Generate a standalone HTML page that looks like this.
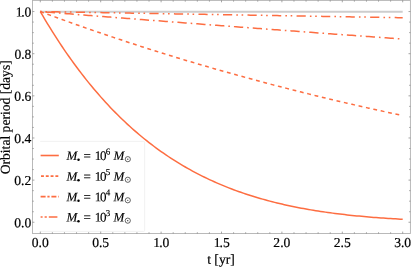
<!DOCTYPE html>
<html><head><meta charset="utf-8"><style>
html,body{margin:0;padding:0;background:#fff;}
svg{display:block;font-family:"Liberation Serif",serif;will-change:transform;}
</style></head><body>
<svg width="411" height="267" viewBox="0 0 411 267">
<rect width="411" height="267" fill="#fff"/>
<path d="M40.3 11.75H402.7" stroke="#cdcdcd" stroke-width="1.8"/>
<path d="M40.30,11.55 L42.72,15.69 L45.13,19.77 L47.55,23.78 L49.96,27.72 L52.38,31.60 L54.80,35.42 L57.21,39.17 L59.63,42.86 L62.04,46.49 L64.46,50.06 L66.88,53.57 L69.29,57.02 L71.71,60.41 L74.12,63.75 L76.54,67.03 L78.96,70.25 L81.37,73.42 L83.79,76.53 L86.20,79.59 L88.62,82.60 L91.04,85.55 L93.45,88.46 L95.87,91.31 L98.28,94.11 L100.70,96.87 L103.12,99.57 L105.53,102.23 L107.95,104.84 L110.36,107.40 L112.78,109.92 L115.20,112.39 L117.61,114.81 L120.03,117.19 L122.44,119.53 L124.86,121.83 L127.28,124.08 L129.69,126.29 L132.11,128.47 L134.52,130.60 L136.94,132.69 L139.36,134.74 L141.77,136.75 L144.19,138.73 L146.60,140.66 L149.02,142.56 L151.44,144.43 L153.85,146.25 L156.27,148.05 L158.68,149.80 L161.10,151.53 L163.52,153.22 L165.93,154.87 L168.35,156.50 L170.76,158.09 L173.18,159.65 L175.60,161.18 L178.01,162.67 L180.43,164.14 L182.84,165.58 L185.26,166.99 L187.68,168.37 L190.09,169.72 L192.51,171.04 L194.92,172.34 L197.34,173.61 L199.76,174.85 L202.17,176.06 L204.59,177.25 L207.00,178.42 L209.42,179.56 L211.84,180.68 L214.25,181.77 L216.67,182.84 L219.08,183.88 L221.50,184.90 L223.92,185.90 L226.33,186.88 L228.75,187.84 L231.16,188.77 L233.58,189.68 L236.00,190.58 L238.41,191.45 L240.83,192.30 L243.24,193.14 L245.66,193.95 L248.08,194.75 L250.49,195.53 L252.91,196.28 L255.32,197.03 L257.74,197.75 L260.16,198.46 L262.57,199.15 L264.99,199.82 L267.40,200.48 L269.82,201.12 L272.24,201.75 L274.65,202.36 L277.07,202.95 L279.48,203.53 L281.90,204.10 L284.32,204.65 L286.73,205.19 L289.15,205.72 L291.56,206.23 L293.98,206.73 L296.40,207.21 L298.81,207.68 L301.23,208.15 L303.64,208.59 L306.06,209.03 L308.48,209.46 L310.89,209.87 L313.31,210.27 L315.72,210.67 L318.14,211.05 L320.56,211.42 L322.97,211.78 L325.39,212.13 L327.80,212.47 L330.22,212.81 L332.64,213.13 L335.05,213.44 L337.47,213.75 L339.88,214.04 L342.30,214.33 L344.72,214.61 L347.13,214.88 L349.55,215.15 L351.96,215.40 L354.38,215.65 L356.80,215.89 L359.21,216.12 L361.63,216.35 L364.04,216.57 L366.46,216.78 L368.88,216.99 L371.29,217.19 L373.71,217.38 L376.12,217.57 L378.54,217.75 L380.96,217.92 L383.37,218.09 L385.79,218.26 L388.20,218.42 L390.62,218.57 L393.04,218.72 L395.45,218.86 L397.87,219.00 L400.28,219.14 L402.70,219.26" fill="none" stroke="#FD6D41" stroke-width="1.5"/>
<path d="M40.30,11.55 L42.72,12.45 L45.13,13.34 L47.55,14.24 L49.96,15.12 L52.38,16.01 L54.80,16.89 L57.21,17.77 L59.63,18.65 L62.04,19.52 L64.46,20.39 L66.88,21.26 L69.29,22.12 L71.71,22.98 L74.12,23.84 L76.54,24.70 L78.96,25.55 L81.37,26.40 L83.79,27.24 L86.20,28.09 L88.62,28.93 L91.04,29.76 L93.45,30.60 L95.87,31.43 L98.28,32.26 L100.70,33.08 L103.12,33.90 L105.53,34.72 L107.95,35.54 L110.36,36.35 L112.78,37.16 L115.20,37.97 L117.61,38.78 L120.03,39.58 L122.44,40.38 L124.86,41.17 L127.28,41.97 L129.69,42.76 L132.11,43.54 L134.52,44.33 L136.94,45.11 L139.36,45.89 L141.77,46.67 L144.19,47.44 L146.60,48.21 L149.02,48.98 L151.44,49.74 L153.85,50.51 L156.27,51.26 L158.68,52.02 L161.10,52.78 L163.52,53.53 L165.93,54.28 L168.35,55.02 L170.76,55.76 L173.18,56.50 L175.60,57.24 L178.01,57.98 L180.43,58.71 L182.84,59.44 L185.26,60.17 L187.68,60.89 L190.09,61.61 L192.51,62.33 L194.92,63.05 L197.34,63.76 L199.76,64.47 L202.17,65.18 L204.59,65.89 L207.00,66.59 L209.42,67.29 L211.84,67.99 L214.25,68.68 L216.67,69.38 L219.08,70.07 L221.50,70.76 L223.92,71.44 L226.33,72.12 L228.75,72.80 L231.16,73.48 L233.58,74.16 L236.00,74.83 L238.41,75.50 L240.83,76.17 L243.24,76.83 L245.66,77.49 L248.08,78.15 L250.49,78.81 L252.91,79.47 L255.32,80.12 L257.74,80.77 L260.16,81.42 L262.57,82.06 L264.99,82.71 L267.40,83.35 L269.82,83.99 L272.24,84.62 L274.65,85.26 L277.07,85.89 L279.48,86.51 L281.90,87.14 L284.32,87.76 L286.73,88.39 L289.15,89.01 L291.56,89.62 L293.98,90.24 L296.40,90.85 L298.81,91.46 L301.23,92.07 L303.64,92.67 L306.06,93.27 L308.48,93.87 L310.89,94.47 L313.31,95.07 L315.72,95.66 L318.14,96.25 L320.56,96.84 L322.97,97.43 L325.39,98.01 L327.80,98.60 L330.22,99.18 L332.64,99.75 L335.05,100.33 L337.47,100.90 L339.88,101.47 L342.30,102.04 L344.72,102.61 L347.13,103.18 L349.55,103.74 L351.96,104.30 L354.38,104.86 L356.80,105.41 L359.21,105.97 L361.63,106.52 L364.04,107.07 L366.46,107.61 L368.88,108.16 L371.29,108.70 L373.71,109.24 L376.12,109.78 L378.54,110.32 L380.96,110.85 L383.37,111.39 L385.79,111.92 L388.20,112.44 L390.62,112.97 L393.04,113.49 L395.45,114.02 L397.87,114.54 L400.28,115.06 L402.70,115.57" fill="none" stroke="#FD6D41" stroke-width="1.5" stroke-dasharray="3.85 3.7" stroke-dashoffset="0"/>
<path d="M40.30,11.55 L42.72,11.74 L45.13,11.94 L47.55,12.13 L49.96,12.32 L52.38,12.52 L54.80,12.71 L57.21,12.90 L59.63,13.10 L62.04,13.29 L64.46,13.48 L66.88,13.67 L69.29,13.87 L71.71,14.06 L74.12,14.25 L76.54,14.44 L78.96,14.63 L81.37,14.82 L83.79,15.02 L86.20,15.21 L88.62,15.40 L91.04,15.59 L93.45,15.78 L95.87,15.97 L98.28,16.16 L100.70,16.35 L103.12,16.54 L105.53,16.73 L107.95,16.92 L110.36,17.11 L112.78,17.30 L115.20,17.49 L117.61,17.68 L120.03,17.87 L122.44,18.06 L124.86,18.25 L127.28,18.43 L129.69,18.62 L132.11,18.81 L134.52,19.00 L136.94,19.19 L139.36,19.38 L141.77,19.56 L144.19,19.75 L146.60,19.94 L149.02,20.13 L151.44,20.31 L153.85,20.50 L156.27,20.69 L158.68,20.87 L161.10,21.06 L163.52,21.25 L165.93,21.43 L168.35,21.62 L170.76,21.81 L173.18,21.99 L175.60,22.18 L178.01,22.36 L180.43,22.55 L182.84,22.74 L185.26,22.92 L187.68,23.11 L190.09,23.29 L192.51,23.48 L194.92,23.66 L197.34,23.85 L199.76,24.03 L202.17,24.21 L204.59,24.40 L207.00,24.58 L209.42,24.77 L211.84,24.95 L214.25,25.13 L216.67,25.32 L219.08,25.50 L221.50,25.68 L223.92,25.87 L226.33,26.05 L228.75,26.23 L231.16,26.42 L233.58,26.60 L236.00,26.78 L238.41,26.96 L240.83,27.14 L243.24,27.33 L245.66,27.51 L248.08,27.69 L250.49,27.87 L252.91,28.05 L255.32,28.23 L257.74,28.41 L260.16,28.60 L262.57,28.78 L264.99,28.96 L267.40,29.14 L269.82,29.32 L272.24,29.50 L274.65,29.68 L277.07,29.86 L279.48,30.04 L281.90,30.22 L284.32,30.40 L286.73,30.58 L289.15,30.76 L291.56,30.94 L293.98,31.11 L296.40,31.29 L298.81,31.47 L301.23,31.65 L303.64,31.83 L306.06,32.01 L308.48,32.19 L310.89,32.36 L313.31,32.54 L315.72,32.72 L318.14,32.90 L320.56,33.08 L322.97,33.25 L325.39,33.43 L327.80,33.61 L330.22,33.78 L332.64,33.96 L335.05,34.14 L337.47,34.31 L339.88,34.49 L342.30,34.67 L344.72,34.84 L347.13,35.02 L349.55,35.20 L351.96,35.37 L354.38,35.55 L356.80,35.72 L359.21,35.90 L361.63,36.07 L364.04,36.25 L366.46,36.42 L368.88,36.60 L371.29,36.77 L373.71,36.95 L376.12,37.12 L378.54,37.30 L380.96,37.47 L383.37,37.64 L385.79,37.82 L388.20,37.99 L390.62,38.16 L393.04,38.34 L395.45,38.51 L397.87,38.68 L400.28,38.86 L402.70,39.03" fill="none" stroke="#FD6D41" stroke-width="1.5" stroke-dasharray="1.6 4.0 9.3 3.98" stroke-dashoffset="0.2"/>
<path d="M40.30,11.55 L42.72,11.59 L45.13,11.63 L47.55,11.68 L49.96,11.72 L52.38,11.76 L54.80,11.80 L57.21,11.84 L59.63,11.88 L62.04,11.93 L64.46,11.97 L66.88,12.01 L69.29,12.05 L71.71,12.09 L74.12,12.13 L76.54,12.18 L78.96,12.22 L81.37,12.26 L83.79,12.30 L86.20,12.34 L88.62,12.38 L91.04,12.43 L93.45,12.47 L95.87,12.51 L98.28,12.55 L100.70,12.59 L103.12,12.63 L105.53,12.68 L107.95,12.72 L110.36,12.76 L112.78,12.80 L115.20,12.84 L117.61,12.88 L120.03,12.92 L122.44,12.97 L124.86,13.01 L127.28,13.05 L129.69,13.09 L132.11,13.13 L134.52,13.17 L136.94,13.22 L139.36,13.26 L141.77,13.30 L144.19,13.34 L146.60,13.38 L149.02,13.42 L151.44,13.46 L153.85,13.51 L156.27,13.55 L158.68,13.59 L161.10,13.63 L163.52,13.67 L165.93,13.71 L168.35,13.75 L170.76,13.80 L173.18,13.84 L175.60,13.88 L178.01,13.92 L180.43,13.96 L182.84,14.00 L185.26,14.04 L187.68,14.09 L190.09,14.13 L192.51,14.17 L194.92,14.21 L197.34,14.25 L199.76,14.29 L202.17,14.33 L204.59,14.37 L207.00,14.42 L209.42,14.46 L211.84,14.50 L214.25,14.54 L216.67,14.58 L219.08,14.62 L221.50,14.66 L223.92,14.70 L226.33,14.75 L228.75,14.79 L231.16,14.83 L233.58,14.87 L236.00,14.91 L238.41,14.95 L240.83,14.99 L243.24,15.03 L245.66,15.08 L248.08,15.12 L250.49,15.16 L252.91,15.20 L255.32,15.24 L257.74,15.28 L260.16,15.32 L262.57,15.36 L264.99,15.40 L267.40,15.45 L269.82,15.49 L272.24,15.53 L274.65,15.57 L277.07,15.61 L279.48,15.65 L281.90,15.69 L284.32,15.73 L286.73,15.77 L289.15,15.82 L291.56,15.86 L293.98,15.90 L296.40,15.94 L298.81,15.98 L301.23,16.02 L303.64,16.06 L306.06,16.10 L308.48,16.14 L310.89,16.19 L313.31,16.23 L315.72,16.27 L318.14,16.31 L320.56,16.35 L322.97,16.39 L325.39,16.43 L327.80,16.47 L330.22,16.51 L332.64,16.55 L335.05,16.59 L337.47,16.64 L339.88,16.68 L342.30,16.72 L344.72,16.76 L347.13,16.80 L349.55,16.84 L351.96,16.88 L354.38,16.92 L356.80,16.96 L359.21,17.00 L361.63,17.04 L364.04,17.09 L366.46,17.13 L368.88,17.17 L371.29,17.21 L373.71,17.25 L376.12,17.29 L378.54,17.33 L380.96,17.37 L383.37,17.41 L385.79,17.45 L388.20,17.49 L390.62,17.53 L393.04,17.58 L395.45,17.62 L397.87,17.66 L400.28,17.70 L402.70,17.74" fill="none" stroke="#FD6D41" stroke-width="1.5" stroke-dasharray="1.6 3.7 1.6 4.3 9.2 4.13" stroke-dashoffset="0.2"/>

<rect x="40.2" y="141.4" width="104.45" height="90" rx="1" fill="#fff" stroke="none"/><path d="M40.2 141.4H143.65Q144.65 141.4 144.65 142.4V230.4Q144.65 231.4 143.65 231.4H40.2" fill="none" stroke="#ededed" stroke-width="0.8"/>
<path d="M40.6 155.50H58.8" stroke="#FD6D41" stroke-width="1.6"/>
<g font-size="13" fill="#000" stroke="#000" stroke-width="0.15" transform="rotate(0.03)"><text x="66.5" y="160.00" font-style="italic">M</text><circle cx="78.6" cy="159.60" r="1.25" stroke="none"/><text x="83.7" y="160.00">=</text><text x="94.8" y="160.00">1</text><text x="100.1" y="160.00">0</text><text x="105.9" y="154.40" font-size="9">6</text><text x="113.5" y="160.00" font-style="italic">M</text><circle cx="127.9" cy="159.10" r="2.6" fill="none" stroke="#000" stroke-width="0.6"/><circle cx="127.9" cy="159.10" r="0.55" stroke="none"/></g>
<path d="M41.0 176.10H58.8" stroke="#FD6D41" stroke-width="1.6" stroke-dasharray="2.9 1.9"/>
<g font-size="13" fill="#000" stroke="#000" stroke-width="0.15" transform="rotate(0.03)"><text x="66.5" y="180.60" font-style="italic">M</text><circle cx="78.6" cy="180.20" r="1.25" stroke="none"/><text x="83.7" y="180.60">=</text><text x="94.8" y="180.60">1</text><text x="100.1" y="180.60">0</text><text x="105.9" y="175.00" font-size="9">5</text><text x="113.5" y="180.60" font-style="italic">M</text><circle cx="127.9" cy="179.70" r="2.6" fill="none" stroke="#000" stroke-width="0.6"/><circle cx="127.9" cy="179.70" r="0.55" stroke="none"/></g>
<path d="M40.6 196.60H58.8" stroke="#FD6D41" stroke-width="1.6" stroke-dasharray="5 1.8 2.2 1.8"/>
<g font-size="13" fill="#000" stroke="#000" stroke-width="0.15" transform="rotate(0.03)"><text x="66.5" y="201.10" font-style="italic">M</text><circle cx="78.6" cy="200.70" r="1.25" stroke="none"/><text x="83.7" y="201.10">=</text><text x="94.8" y="201.10">1</text><text x="100.1" y="201.10">0</text><text x="105.9" y="195.50" font-size="9">4</text><text x="113.5" y="201.10" font-style="italic">M</text><circle cx="127.9" cy="200.20" r="2.6" fill="none" stroke="#000" stroke-width="0.6"/><circle cx="127.9" cy="200.20" r="0.55" stroke="none"/></g>
<path d="M40.6 217.00H58.8" stroke="#FD6D41" stroke-width="1.6" stroke-dasharray="2 2 2.2 2 8.6 4"/>
<g font-size="13" fill="#000" stroke="#000" stroke-width="0.15" transform="rotate(0.03)"><text x="66.5" y="221.50" font-style="italic">M</text><circle cx="78.6" cy="221.10" r="1.25" stroke="none"/><text x="83.7" y="221.50">=</text><text x="94.8" y="221.50">1</text><text x="100.1" y="221.50">0</text><text x="105.9" y="215.90" font-size="9">3</text><text x="113.5" y="221.50" font-style="italic">M</text><circle cx="127.9" cy="220.60" r="2.6" fill="none" stroke="#000" stroke-width="0.6"/><circle cx="127.9" cy="220.60" r="0.55" stroke="none"/></g>

<g stroke="#b2b2b2" stroke-width="0.9" fill="none">
<rect x="32.5" y="0.4" width="377.9" height="233.1"/>
</g><g stroke="#6a6a6a" stroke-width="0.6" fill="none">
<path d="M40.30 233.50V231.60M40.30 0.40V2.30"/>
<path d="M52.38 233.50V232.25M52.38 0.40V1.65"/>
<path d="M64.46 233.50V232.25M64.46 0.40V1.65"/>
<path d="M76.54 233.50V232.25M76.54 0.40V1.65"/>
<path d="M88.62 233.50V232.25M88.62 0.40V1.65"/>
<path d="M100.70 233.50V231.60M100.70 0.40V2.30"/>
<path d="M112.78 233.50V232.25M112.78 0.40V1.65"/>
<path d="M124.86 233.50V232.25M124.86 0.40V1.65"/>
<path d="M136.94 233.50V232.25M136.94 0.40V1.65"/>
<path d="M149.02 233.50V232.25M149.02 0.40V1.65"/>
<path d="M161.10 233.50V231.60M161.10 0.40V2.30"/>
<path d="M173.18 233.50V232.25M173.18 0.40V1.65"/>
<path d="M185.26 233.50V232.25M185.26 0.40V1.65"/>
<path d="M197.34 233.50V232.25M197.34 0.40V1.65"/>
<path d="M209.42 233.50V232.25M209.42 0.40V1.65"/>
<path d="M221.50 233.50V231.60M221.50 0.40V2.30"/>
<path d="M233.58 233.50V232.25M233.58 0.40V1.65"/>
<path d="M245.66 233.50V232.25M245.66 0.40V1.65"/>
<path d="M257.74 233.50V232.25M257.74 0.40V1.65"/>
<path d="M269.82 233.50V232.25M269.82 0.40V1.65"/>
<path d="M281.90 233.50V231.60M281.90 0.40V2.30"/>
<path d="M293.98 233.50V232.25M293.98 0.40V1.65"/>
<path d="M306.06 233.50V232.25M306.06 0.40V1.65"/>
<path d="M318.14 233.50V232.25M318.14 0.40V1.65"/>
<path d="M330.22 233.50V232.25M330.22 0.40V1.65"/>
<path d="M342.30 233.50V231.60M342.30 0.40V2.30"/>
<path d="M354.38 233.50V232.25M354.38 0.40V1.65"/>
<path d="M366.46 233.50V232.25M366.46 0.40V1.65"/>
<path d="M378.54 233.50V232.25M378.54 0.40V1.65"/>
<path d="M390.62 233.50V232.25M390.62 0.40V1.65"/>
<path d="M402.70 233.50V231.60M402.70 0.40V2.30"/>
<path d="M32.50 222.25H34.40M410.40 222.25H408.50"/>
<path d="M32.50 211.72H33.75M410.40 211.72H409.15"/>
<path d="M32.50 201.18H33.75M410.40 201.18H409.15"/>
<path d="M32.50 190.65H33.75M410.40 190.65H409.15"/>
<path d="M32.50 180.11H34.40M410.40 180.11H408.50"/>
<path d="M32.50 169.57H33.75M410.40 169.57H409.15"/>
<path d="M32.50 159.04H33.75M410.40 159.04H409.15"/>
<path d="M32.50 148.50H33.75M410.40 148.50H409.15"/>
<path d="M32.50 137.97H34.40M410.40 137.97H408.50"/>
<path d="M32.50 127.44H33.75M410.40 127.44H409.15"/>
<path d="M32.50 116.90H33.75M410.40 116.90H409.15"/>
<path d="M32.50 106.36H33.75M410.40 106.36H409.15"/>
<path d="M32.50 95.83H34.40M410.40 95.83H408.50"/>
<path d="M32.50 85.30H33.75M410.40 85.30H409.15"/>
<path d="M32.50 74.76H33.75M410.40 74.76H409.15"/>
<path d="M32.50 64.23H33.75M410.40 64.23H409.15"/>
<path d="M32.50 53.69H34.40M410.40 53.69H408.50"/>
<path d="M32.50 43.16H33.75M410.40 43.16H409.15"/>
<path d="M32.50 32.62H33.75M410.40 32.62H409.15"/>
<path d="M32.50 22.09H33.75M410.40 22.09H409.15"/>
<path d="M32.50 11.55H34.40M410.40 11.55H408.50"/>
</g>
<g font-size="13.6" fill="#000" stroke="#000" stroke-width="0.2" transform="rotate(0.03)">
<text x="48.90" y="246.90" text-anchor="end">0.0</text>
<text x="109.30" y="246.90" text-anchor="end">0.5</text>
<text x="169.53" y="246.90" text-anchor="end">.0</text><text x="153.49" y="246.90">1</text>
<text x="229.93" y="246.90" text-anchor="end">.5</text><text x="213.89" y="246.90">1</text>
<text x="290.50" y="246.90" text-anchor="end">2.0</text>
<text x="350.90" y="246.90" text-anchor="end">2.5</text>
<text x="411.30" y="246.90" text-anchor="end">3.0</text>
<text x="31.41" y="227.20" text-anchor="end">0.0</text>
<text x="31.41" y="185.06" text-anchor="end">0.2</text>
<text x="31.41" y="142.92" text-anchor="end">0.4</text>
<text x="31.41" y="100.78" text-anchor="end">0.6</text>
<text x="31.41" y="58.64" text-anchor="end">0.8</text>
<text x="31.41" y="16.50" text-anchor="end">.0</text><text x="15.86" y="16.50">1</text>

<text x="221.1" y="263.6" text-anchor="middle">t [yr]</text>
<text transform="translate(9.8,117.3) rotate(-90)" text-anchor="middle">Orbital period [days]</text>
</g>
</svg>
</body></html>
